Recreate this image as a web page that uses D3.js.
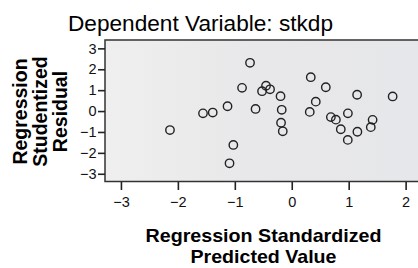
<!DOCTYPE html>
<html><head><meta charset="utf-8">
<script src="https://cdn.jsdelivr.net/npm/d3@7"></script>
<style>html,body{margin:0;padding:0;background:#fff;}svg{display:block;}</style>
</head><body>
<script>
const predicted = [-0.733,0.334,-0.873,-0.452,-0.522,-0.381,0.598,-0.197,1.148,1.772,0.422,-1.128,-1.559,-1.388,-0.636,-0.176,0.316,0.986,0.687,0.775,-0.188,1.420,1.388,-2.139,-0.158,0.861,1.153,0.984,-1.026,-1.093];
const residual  = [2.31,1.62,1.11,1.21,0.95,1.04,1.14,0.71,0.78,0.70,0.45,0.23,-0.11,-0.07,0.10,0.06,-0.04,-0.11,-0.29,-0.41,-0.56,-0.42,-0.77,-0.91,-0.97,-0.87,-0.99,-1.38,-1.62,-2.50];
const xTicks = [-3,-2,-1,0,1,2];
const yTicks = [-3,-2,-1,0,1,2,3];
const title = "Dependent Variable: stkdp";
const yTitle = ["Regression","Studentized","Residual"];
const xTitle = ["Regression Standardized","Predicted Value"];

const W=418,H=268;
const L=105,T=40,R=421,B=181.5;
const svg=d3.select("body").append("svg").attr("width",W).attr("height",H);
const defs=svg.append("defs");
const g=defs.append("linearGradient").attr("id","bg").attr("x1","0").attr("x2","1");
g.append("stop").attr("offset","0").attr("stop-color","#efefef");
g.append("stop").attr("offset","0.45").attr("stop-color","#e8e8ea");
g.append("stop").attr("offset","1").attr("stop-color","#e6e7ea");

const x=d3.scaleLinear().domain([-3.28,2.27]).range([L,R]);
const y=d3.scaleLinear().domain([-3.37,3.40]).range([B,T]);

svg.append("rect").attr("x",L).attr("y",T).attr("width",R-L+10).attr("height",B-T)
  .attr("fill","url(#bg)").attr("stroke","#333").attr("stroke-width",1.5);

const font="'Liberation Sans', Arial, sans-serif";
const xa=svg.append("g").attr("transform",`translate(0,${B+0.5})`)
  .call(d3.axisBottom(x).tickValues(xTicks).tickSize(8).tickSizeOuter(0).tickFormat(d3.format("d")));
xa.select(".domain").remove();
xa.selectAll("line").attr("stroke","#222").attr("stroke-width",1.6);
xa.selectAll("text").attr("font-family",font).attr("font-size","14.5px").attr("fill","#111").attr("dy","0.95em");

const ya=svg.append("g").attr("transform",`translate(${L},0)`)
  .call(d3.axisLeft(y).tickValues(yTicks).tickSize(7).tickPadding(1.5).tickSizeOuter(0).tickFormat(d3.format("d")));
ya.select(".domain").remove();
ya.selectAll("line").attr("stroke","#222").attr("stroke-width",1.6);
ya.selectAll("text").attr("font-family",font).attr("font-size","14.5px").attr("fill","#111");

svg.append("g").selectAll("circle").data(predicted).join("circle")
  .attr("cx",(d,i)=>x(d)).attr("cy",(d,i)=>y(residual[i])).attr("r",4.2)
  .attr("fill","none").attr("stroke","#222").attr("stroke-width",1.4);

svg.append("text").attr("x",200.5).attr("y",30.5).attr("text-anchor","middle")
  .attr("font-family",font).attr("font-size","21.5px").attr("fill","#000")
  .attr("textLength",265).attr("lengthAdjust","spacingAndGlyphs").text(title);

const xLens=[236,146];
xTitle.forEach((t,i)=>{
  svg.append("text").attr("x",263.5).attr("y",241.5+i*21).attr("text-anchor","middle")
    .attr("font-family",font).attr("font-weight","bold").attr("font-size","19px").attr("fill","#000")
    .attr("textLength",xLens[i]).attr("lengthAdjust","spacingAndGlyphs").text(t);
});
yTitle.forEach((t,i)=>{
  svg.append("text").attr("transform",`translate(${27+i*20},111.5) rotate(-90)`).attr("text-anchor","middle")
    .attr("font-family",font).attr("font-weight","bold").attr("font-size","19.5px").attr("fill","#000").text(t);
});
</script>
</body></html>
